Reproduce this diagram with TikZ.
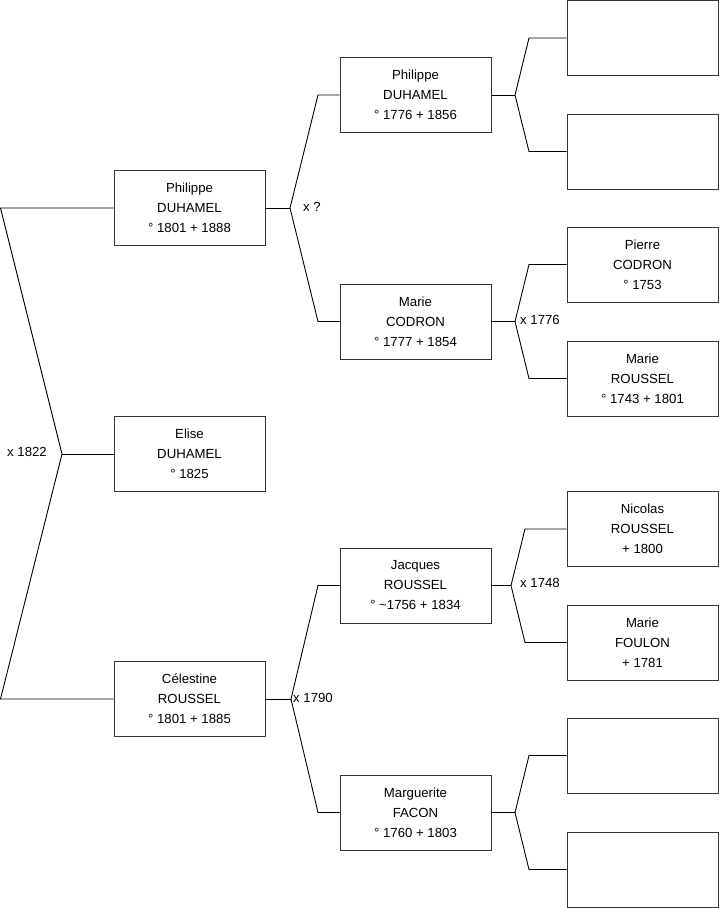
\documentclass[tikz,border=0pt]{standalone}
\usepackage{fontspec}
\setmainfont{Liberation Sans}
\begin{document}
\begin{tikzpicture}[x=1pt,y=-1pt,
  person/.style={draw=black!80,line width=1pt,fill=white,minimum width=151pt,minimum height=75pt,
    align=center,inner sep=0pt,font=\fontsize{13.2}{20}\selectfont},
  link/.style={draw=black,line width=0.9pt},
  marr/.style={inner sep=0pt,font=\fontsize{13.2}{15}\selectfont}]
\useasboundingbox (0,0) rectangle (719,908);
% generation 1
\node[person] (g1a) at (189.5,208) {Philippe\\DUHAMEL\\° 1801 + 1888};
\node[person] (g1b) at (189.5,454) {Elise\\DUHAMEL\\° 1825};
\node[person] (g1c) at (189.5,699) {Célestine\\ROUSSEL\\° 1801 + 1885};
% generation 2
\node[person] (g2a) at (415.5,95) {Philippe\\DUHAMEL\\° 1776 + 1856};
\node[person] (g2b) at (415.5,321.5) {Marie\\CODRON\\° 1777 + 1854};
\node[person] (g2c) at (415.5,585.5) {Jacques\\ROUSSEL\\° \textasciitilde1756 + 1834};
\node[person] (g2d) at (415.5,812.5) {Marguerite\\FACON\\° 1760 + 1803};
% generation 3
\node[person] (g3a) at (642.5,38) {};
\node[person] (g3b) at (642.5,151.5) {};
\node[person] (g3c) at (642.5,264.5) {Pierre\\CODRON\\° 1753};
\node[person] (g3d) at (642.5,378.5) {Marie\\ROUSSEL\\° 1743 + 1801};
\node[person] (g3e) at (642.5,529) {Nicolas\\ROUSSEL\\+ 1800};
\node[person] (g3f) at (642.5,642.5) {Marie\\FOULON\\+ 1781};
\node[person] (g3g) at (642.5,755.5) {};
\node[person] (g3h) at (642.5,869.5) {};
% branch points
\coordinate (t0) at (0.5,208);
\coordinate (b0) at (62,454);
\coordinate (u0) at (0.5,699);
\coordinate (ba) at (290,208);
\coordinate (ea1) at (318,95);
\coordinate (ea2) at (318,321.5);
\coordinate (bc) at (291,699);
\coordinate (ec1) at (318,585.5);
\coordinate (ec2) at (318,812.5);
\coordinate (bA) at (515,95);
\coordinate (eA1) at (529,38);
\coordinate (eA2) at (529,151.5);
\coordinate (bB) at (515,321.5);
\coordinate (eB1) at (529,264.5);
\coordinate (eB2) at (529,378.5);
\coordinate (bC) at (511,585.5);
\coordinate (eC1) at (525,529);
\coordinate (eC2) at (525,642.5);
\coordinate (bD) at (515,812.5);
\coordinate (eD1) at (529,755.5);
\coordinate (eD2) at (529,869.5);
% connectors
\draw[link] (g1a.west) -- (t0) -- (b0) -- (u0) -- (g1c.west);
\draw[link] (b0) -- (g1b.west);
\draw[link] (g1a.east) -- (ba);
\draw[link] (g2a.west) -- (ea1) -- (ba) -- (ea2) -- (g2b.west);
\draw[link] (g1c.east) -- (bc);
\draw[link] (g2c.west) -- (ec1) -- (bc) -- (ec2) -- (g2d.west);
\draw[link] (g2a.east) -- (bA);
\draw[link] (g3a.west) -- (eA1) -- (bA) -- (eA2) -- (g3b.west);
\draw[link] (g2b.east) -- (bB);
\draw[link] (g3c.west) -- (eB1) -- (bB) -- (eB2) -- (g3d.west);
\draw[link] (g2c.east) -- (bC);
\draw[link] (g3e.west) -- (eC1) -- (bC) -- (eC2) -- (g3f.west);
\draw[link] (g2d.east) -- (bD);
\draw[link] (g3g.west) -- (eD1) -- (bD) -- (eD2) -- (g3h.west);
% marriage labels
\node[marr,anchor=east] (m0) at (47,452) {x 1822};
\node[marr,anchor=west] (m1) at (303,207) {x ?};
\node[marr,anchor=west] (m2) at (293,698) {x 1790};
\node[marr,anchor=west] (m3) at (520,320) {x 1776};
\node[marr,anchor=west] (m4) at (520,583) {x 1748};
\end{tikzpicture}
\end{document}
